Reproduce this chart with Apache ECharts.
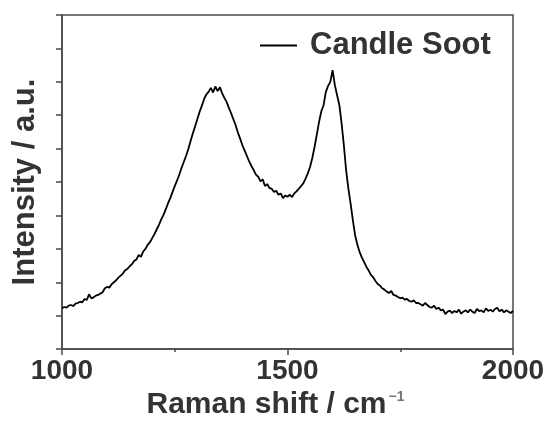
<!DOCTYPE html>
<html>
<head>
<meta charset="utf-8">
<script src="https://cdn.jsdelivr.net/npm/echarts@6/dist/echarts.min.js"></script>
<style>
html,body{margin:0;padding:0;background:#fff;}
#chart{width:550px;height:425px;}
</style>
</head>
<body>
<div id="chart"></div>
<script>
var seriesName = 'Candle Soot';
var ramanShift = [
  1000,1005,1010,1015,1020,1025,1030,1035,1040,1045,1050,1055,1060,1065,1070,1075,1080,1085,1090,1095,
  1100,1105,1110,1115,1120,1125,1130,1135,1140,1145,1150,1155,1160,1165,1170,1175,1180,1185,1190,1195,
  1200,1205,1210,1215,1220,1225,1230,1235,1240,1245,1250,1255,1260,1265,1270,1275,1280,1285,1290,1295,
  1300,1305,1310,1315,1320,1325,1330,1335,1340,1345,1350,1355,1360,1365,1370,1375,1380,1385,1390,1395,
  1400,1405,1410,1415,1420,1425,1430,1435,1440,1445,1450,1455,1460,1465,1470,1475,1480,1485,1490,1495,
  1500,1505,1510,1515,1520,1525,1530,1535,1540,1545,1550,1555,1560,1565,1570,1575,1580,1585,1590,1595,
  1600,1605,1610,1615,1620,1625,1630,1635,1640,1645,1650,1655,1660,1665,1670,1675,1680,1685,1690,1695,
  1700,1705,1710,1715,1720,1725,1730,1735,1740,1745,1750,1755,1760,1765,1770,1775,1780,1785,1790,1795,
  1800,1805,1810,1815,1820,1825,1830,1835,1840,1845,1850,1855,1860,1865,1870,1875,1880,1885,1890,1895,
  1900,1905,1910,1915,1920,1925,1930,1935,1940,1945,1950,1955,1960,1965,1970,1975,1980,1985,1990,1995,
  2000];
var intensity = [
  1.22,1.26,1.24,1.30,1.32,1.29,1.36,1.38,1.42,1.40,1.50,1.47,1.64,1.52,1.55,1.60,1.62,1.66,1.70,1.82,
  1.86,1.84,1.94,2.00,2.06,2.14,2.20,2.26,2.36,2.40,2.48,2.54,2.64,2.68,2.82,2.76,2.92,3.00,3.12,3.20,
  3.32,3.44,3.58,3.72,3.88,4.02,4.18,4.36,4.52,4.70,4.88,5.04,5.22,5.42,5.60,5.78,5.98,6.22,6.45,6.66,
  6.88,7.10,7.28,7.48,7.62,7.70,7.82,7.68,7.86,7.72,7.84,7.66,7.52,7.40,7.22,7.06,6.88,6.70,6.48,6.30,
  6.10,5.94,5.78,5.62,5.48,5.36,5.22,5.16,5.02,5.08,4.88,4.94,4.82,4.80,4.70,4.74,4.62,4.66,4.52,4.60,
  4.56,4.62,4.55,4.66,4.72,4.80,4.88,4.96,5.10,5.26,5.45,5.72,6.05,6.42,6.80,7.12,7.30,7.70,7.88,8.00,
  8.35,7.90,7.60,7.30,6.75,6.10,5.35,4.80,4.35,3.85,3.40,3.12,2.90,2.74,2.60,2.46,2.35,2.22,2.15,2.04,
  1.95,1.90,1.82,1.78,1.72,1.68,1.74,1.62,1.60,1.56,1.52,1.54,1.48,1.50,1.44,1.42,1.46,1.38,1.38,1.34,
  1.30,1.38,1.32,1.26,1.24,1.30,1.20,1.24,1.16,1.18,1.05,1.12,1.15,1.08,1.14,1.10,1.18,1.06,1.12,1.16,
  1.10,1.18,1.12,1.08,1.20,1.14,1.16,1.10,1.22,1.14,1.18,1.12,1.20,1.24,1.13,1.18,1.10,1.16,1.12,1.08,
  1.14];
var xTicks = [1000, 1500, 2000];

var pts = ramanShift.map(function (x, i) { return [x, intensity[i]]; });
var FONT = '"Liberation Sans", Arial, Helvetica, sans-serif';
var TXT = '#333333';
var AX = '#4a4a4a';

var chart = echarts.init(document.getElementById('chart'), null, {renderer: 'canvas'});
chart.setOption({
  animation: false,
  backgroundColor: '#ffffff',
  grid: {left: 62, right: 37, top: 15, bottom: 75, show: true,
         borderColor: AX, borderWidth: 1.5, backgroundColor: 'transparent'},
  legend: {
    data: [seriesName], left: 255, top: 25, icon: 'rect',
    itemWidth: 37, itemHeight: 2, itemGap: 10,
    textStyle: {fontFamily: FONT, fontWeight: 'bold', fontSize: 31, color: TXT, padding: [0, 0, 0, 8]}
  },
  xAxis: {
    type: 'value', min: 1000, max: 2000, interval: 500,
    name: 'Raman shift / cm{sup|−1}', nameLocation: 'middle', nameGap: 40,
    nameTextStyle: {fontFamily: FONT, fontWeight: 'bold', fontSize: 30, color: TXT, padding: [0, 24, 0, 0],
      rich: {sup: {fontFamily: FONT, fontSize: 14, color: '#777', verticalAlign: 'top', padding: [0,0,16,2]}}},
    axisLine: {show: true, onZero: false, lineStyle: {color: AX, width: 1.5}},
    axisTick: {show: true, inside: false, length: 6, lineStyle: {color: AX, width: 1.5}},
    minorTick: {show: true, splitNumber: 2, length: 3, lineStyle: {color: AX, width: 1.5}},
    axisLabel: {margin: 8, fontFamily: FONT, fontWeight: 'bold', fontSize: 28, color: TXT,
      formatter: function (v) { return xTicks.indexOf(v) >= 0 ? String(v) : ''; }},
    splitLine: {show: false}
  },
  yAxis: {
    type: 'value', min: 0, max: 10, interval: 1,
    name: 'Intensity / a.u.', nameLocation: 'middle', nameGap: 21,
    nameTextStyle: {fontFamily: FONT, fontWeight: 'bold', fontSize: 31, color: TXT},
    axisLine: {show: true, onZero: false, lineStyle: {color: AX, width: 1.5}},
    axisTick: {show: true, inside: false, length: 6, lineStyle: {color: AX, width: 1.5}},
    axisLabel: {show: false},
    splitLine: {show: false}
  },
  series: [{
    name: seriesName, type: 'line', data: pts,
    showSymbol: false, symbol: 'none', smooth: false,
    lineStyle: {color: '#000', width: 1.8},
    itemStyle: {color: '#000'}
  }]
});
</script>
</body>
</html>
